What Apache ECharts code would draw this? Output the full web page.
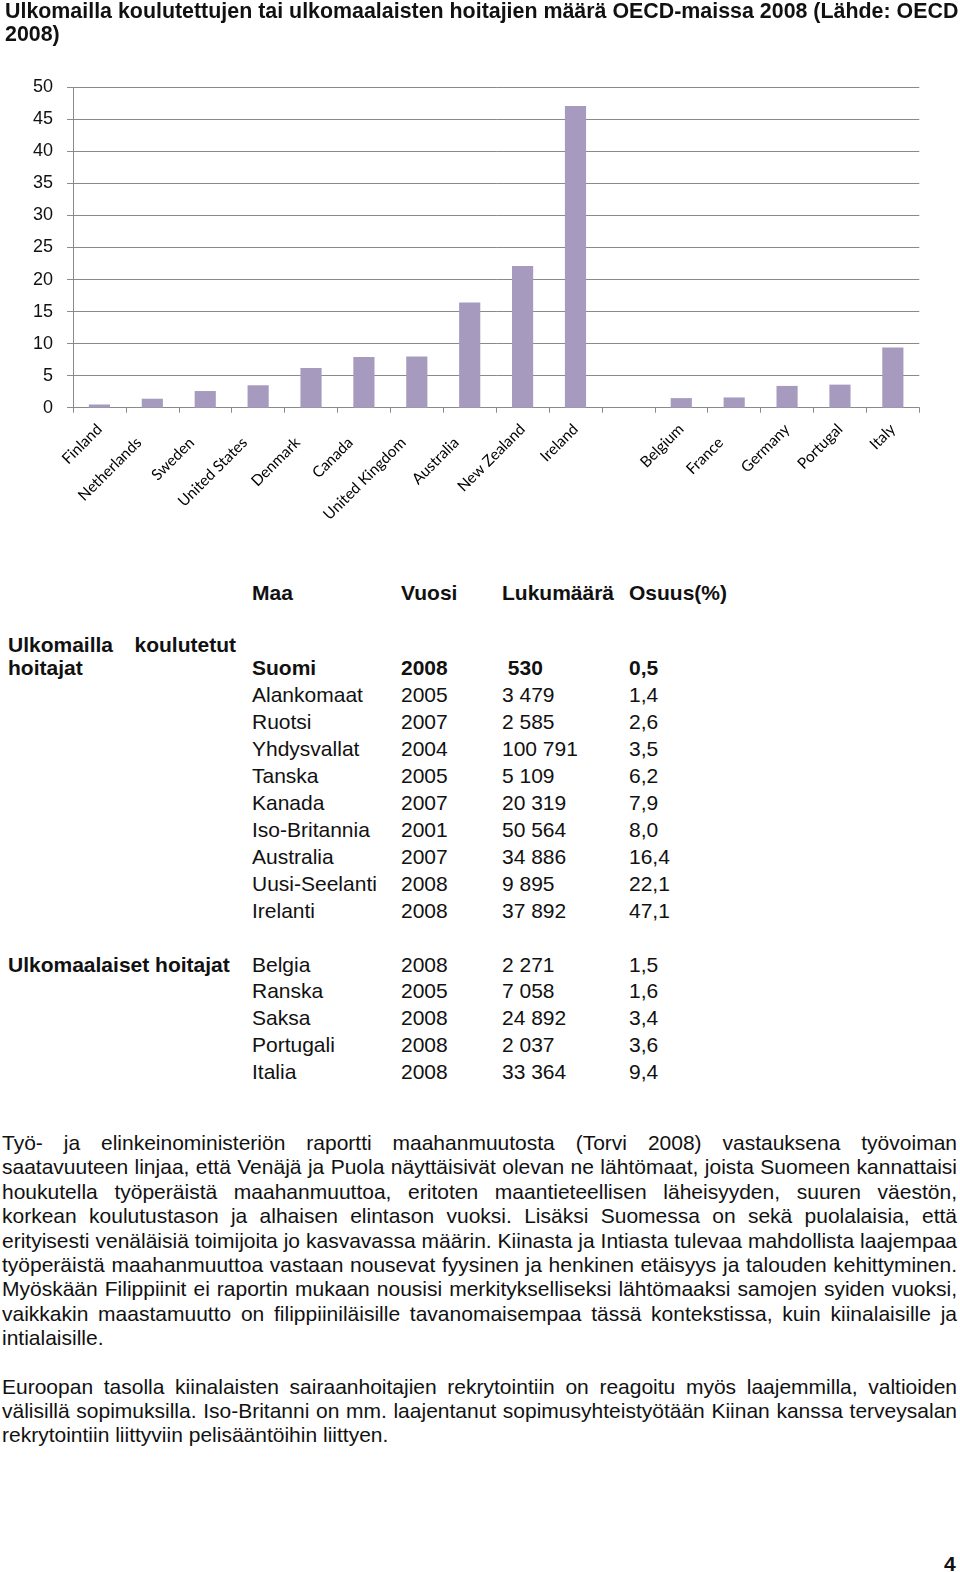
<!DOCTYPE html>
<html><head><meta charset="utf-8">
<script src="https://cdn.jsdelivr.net/npm/echarts@6/dist/echarts.min.js"></script>
<style>
body{margin:0;background:#fff;width:960px;height:1572px;position:relative;overflow:hidden;font-family:"Liberation Sans",Arial,sans-serif;color:#111;}
#chart{position:absolute;left:0;top:0;width:960px;height:560px;}
.t{position:absolute;font-size:21px;line-height:27px;white-space:nowrap;}
.b{font-weight:bold;}
.p{position:absolute;left:2px;width:955px;font-size:21px;line-height:24.4px;}
.p span{display:block;text-align:justify;text-align-last:justify;}
.p span.last{text-align:left;text-align-last:left;}
</style>
</head><body>
<div id="chart"></div>
<div id="doc"></div>
<script>
// ---- data ----
const titleText = 'Ulkomailla koulutettujen tai ulkomaalaisten hoitajien määrä OECD-maissa 2008 (Lähde: OECD\n2008)';
const categories = ['Finland','Netherlands','Sweden','United States','Denmark','Canada','United Kingdom','Australia','New Zealand','Ireland','','Belgium','France','Germany','Portugal','Italy'];
const shareValues = [0.5, 1.4, 2.6, 3.5, 6.2, 7.9, 8.0, 16.4, 22.1, 47.1, null, 1.5, 1.6, 3.4, 3.6, 9.4];
const yTicks = [0, 5, 10, 15, 20, 25, 30, 35, 40, 45, 50];

const headers = ['Maa', 'Vuosi', 'Lukumäärä', 'Osuus(%)'];
const group1Names = ['Suomi','Alankomaat','Ruotsi','Yhdysvallat','Tanska','Kanada','Iso-Britannia','Australia','Uusi-Seelanti','Irelanti'];
const group1Years = ['2008','2005','2007','2004','2005','2007','2001','2007','2008','2008'];
const group1Counts = [' 530','3 479','2 585','100 791','5 109','20 319','50 564','34 886','9 895','37 892'];
const group1Shares = ['0,5','1,4','2,6','3,5','6,2','7,9','8,0','16,4','22,1','47,1'];
const group2Names = ['Belgia','Ranska','Saksa','Portugali','Italia'];
const group2Years = ['2008','2005','2008','2008','2008'];
const group2Counts = ['2 271','7 058','24 892','2 037','33 364'];
const group2Shares = ['1,5','1,6','3,4','3,6','9,4'];

const para1 = [
'Työ- ja elinkeinoministeriön raportti maahanmuutosta (Torvi 2008) vastauksena työvoiman',
'saatavuuteen linjaa, että Venäjä ja Puola näyttäisivät olevan ne lähtömaat, joista Suomeen kannattaisi',
'houkutella työperäistä maahanmuuttoa, eritoten maantieteellisen läheisyyden, suuren väestön,',
'korkean koulutustason ja alhaisen elintason vuoksi. Lisäksi Suomessa on sekä puolalaisia, että',
'erityisesti venäläisiä toimijoita jo kasvavassa määrin. Kiinasta ja Intiasta tulevaa mahdollista laajempaa',
'työperäistä maahanmuuttoa vastaan nousevat fyysinen ja henkinen etäisyys ja talouden kehittyminen.',
'Myöskään Filippiinit ei raportin mukaan nousisi merkitykselliseksi lähtömaaksi samojen syiden vuoksi,',
'vaikkakin maastamuutto on filippiiniläisille tavanomaisempaa tässä kontekstissa, kuin kiinalaisille ja',
'intialaisille.'
];
const para2 = [
'Euroopan tasolla kiinalaisten sairaanhoitajien rekrytointiin on reagoitu myös laajemmilla, valtioiden',
'välisillä sopimuksilla. Iso-Britanni on mm. laajentanut sopimusyhteistyötään Kiinan kanssa terveysalan',
'rekrytointiin liittyviin pelisääntöihin liittyen.'
];

// ---- chart ----
// labels that the original layout pushes further down along their diagonal (style only)
const staggeredLabelIdx = [1,2,3,4,5,6,7,12];
const axisCats = categories.map((c,i)=> staggeredLabelIdx.includes(i)
  ? {value:c, textStyle:{padding:[0,19,0,0]}} : c);

const chart = echarts.init(document.getElementById('chart'), null, {renderer:'canvas'});
const gridCol = '#8a8a8a';
chart.setOption({
  animation:false,
  title:{text:titleText,left:0,top:-4,textStyle:{fontFamily:'Liberation Sans',fontSize:21.4,fontWeight:'bold',color:'#111',lineHeight:23}},
  grid:{left:73,right:40.7,top:87.3,height:320.4,containLabel:false},
  xAxis:{type:'category',data:axisCats,
    axisLine:{lineStyle:{color:gridCol,width:1}},
    axisTick:{show:true,interval:0,length:5,lineStyle:{color:gridCol}},
    axisLabel:{interval:0,rotate:45,margin:19,fontFamily:'Lato',fontSize:15.3,color:'#000'}},
  yAxis:{type:'value',min:yTicks[0],max:yTicks[yTicks.length-1],interval:yTicks[1]-yTicks[0],
    axisLine:{show:true,lineStyle:{color:gridCol,width:1}},
    axisTick:{show:true,length:6,lineStyle:{color:gridCol}},
    splitLine:{show:true,lineStyle:{color:gridCol,width:1}},
    axisLabel:{margin:20,fontFamily:'Liberation Sans',fontSize:18,color:'#111'}},
  series:[{type:'bar',data:shareValues,barCategoryGap:'60%',itemStyle:{color:'#a69bbe'}}]
});

// ---- document text ----
const doc = document.getElementById('doc');
function add(text, x, cy, bold){
  const d=document.createElement('div');
  d.className='t'+(bold?' b':'');
  d.style.left=x+'px'; d.style.top=(cy-13.5)+'px';
  d.textContent=text; doc.appendChild(d); return d;
}
const colX=[252,401,502,629];
headers.forEach((h,i)=>add(h,colX[i],592.5,true));
const g1=add('Ulkomailla koulutetut',8,644,true);
g1.style.width='228px'; g1.style.textAlign='justify'; g1.style.textAlignLast='justify'; g1.style.whiteSpace='normal';
add('hoitajat',8,667.5,true);
group1Names.forEach((n,i)=>{
  const cy=667.5+26.95*i, bold=(i===0);
  add(n,colX[0],cy,bold); add(group1Years[i],colX[1],cy,bold);
  const c=add(group1Counts[i],colX[2],cy,bold); c.style.whiteSpace='pre';
  add(group1Shares[i],colX[3],cy,bold);
});
add('Ulkomaalaiset hoitajat',8,964,true);
group2Names.forEach((n,i)=>{
  const cy=964+26.95*i;
  add(n,colX[0],cy,false); add(group2Years[i],colX[1],cy,false);
  add(group2Counts[i],colX[2],cy,false); add(group2Shares[i],colX[3],cy,false);
});
function para(lines, top){
  const p=document.createElement('div'); p.className='p'; p.style.top=top+'px';
  lines.forEach((l,i)=>{const s=document.createElement('span'); s.textContent=l; if(i===lines.length-1) s.className='last'; p.appendChild(s);});
  doc.appendChild(p);
}
para(para1, 1131);
para(para2, 1374.6);
add('4',944,1563,true);
</script>
</body></html>
